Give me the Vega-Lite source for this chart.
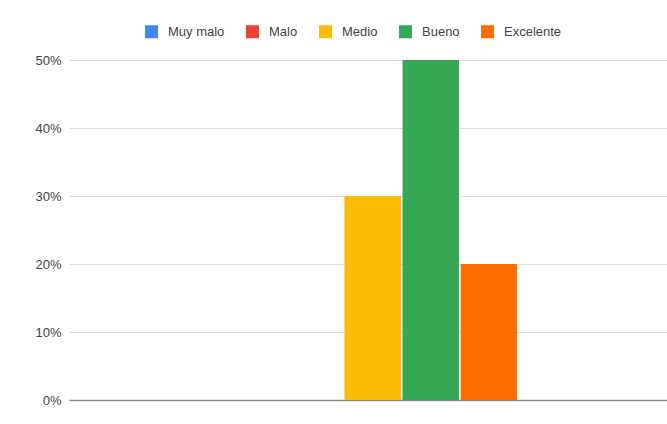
{
  "$schema": "https://vega.github.io/schema/vega-lite/v6.json",
  "width": 598,
  "height": 340,
  "autosize": {"type": "none"},
  "padding": {"left": 69, "top": 60, "right": 0, "bottom": 24},
  "background": "white",
  "data": {"values": [
    {"rating": "Muy malo", "share": 0},
    {"rating": "Malo", "share": 0},
    {"rating": "Medio", "share": 0.3},
    {"rating": "Bueno", "share": 0.5},
    {"rating": "Excelente", "share": 0.2}
  ]},
  "layer": [
    {
      "mark": {"type": "bar", "cornerRadiusEnd": 1},
      "encoding": {
        "x": {
          "field": "rating", "type": "nominal",
          "scale": {"domain": ["_l1", "_l2", "Muy malo", "Malo", "Medio", "Bueno", "Excelente", "_r1", "_r2"], "paddingInner": 0.02, "paddingOuter": 0.66, "align": 0.56},
          "axis": {"title": null, "labels": false, "ticks": false, "domain": true, "domainColor": "#8a8a8a", "domainWidth": 1.5, "grid": false}
        },
        "y": {
          "field": "share", "type": "quantitative",
          "scale": {"domain": [0, 0.5]},
          "axis": {"title": null, "format": "%", "values": [0, 0.1, 0.2, 0.3, 0.4, 0.5], "ticks": false, "domain": false, "labelPadding": 8, "labelFontSize": 13, "labelColor": "#444444", "labelFont": "Liberation Sans", "gridColor": "#dddddd"}
        },
        "color": {
          "field": "rating", "type": "nominal",
          "scale": {"domain": ["Muy malo", "Malo", "Medio", "Bueno", "Excelente"], "range": ["#4285F4", "#EA4335", "#FBBC04", "#34A853", "#FF6D01"]},
          "legend": {
            "title": null, "orient": "none", "direction": "horizontal",
            "legendX": 76, "legendY": -35,
            "symbolType": "square", "symbolSize": 169, "symbolStrokeWidth": 0,
            "labelFontSize": 13, "labelColor": "#444444", "labelFont": "Liberation Sans",
            "labelOffset": 10, "columnPadding": 21
          }
        }
      }
    }
  ],
  "config": {"view": {"stroke": null}}
}
